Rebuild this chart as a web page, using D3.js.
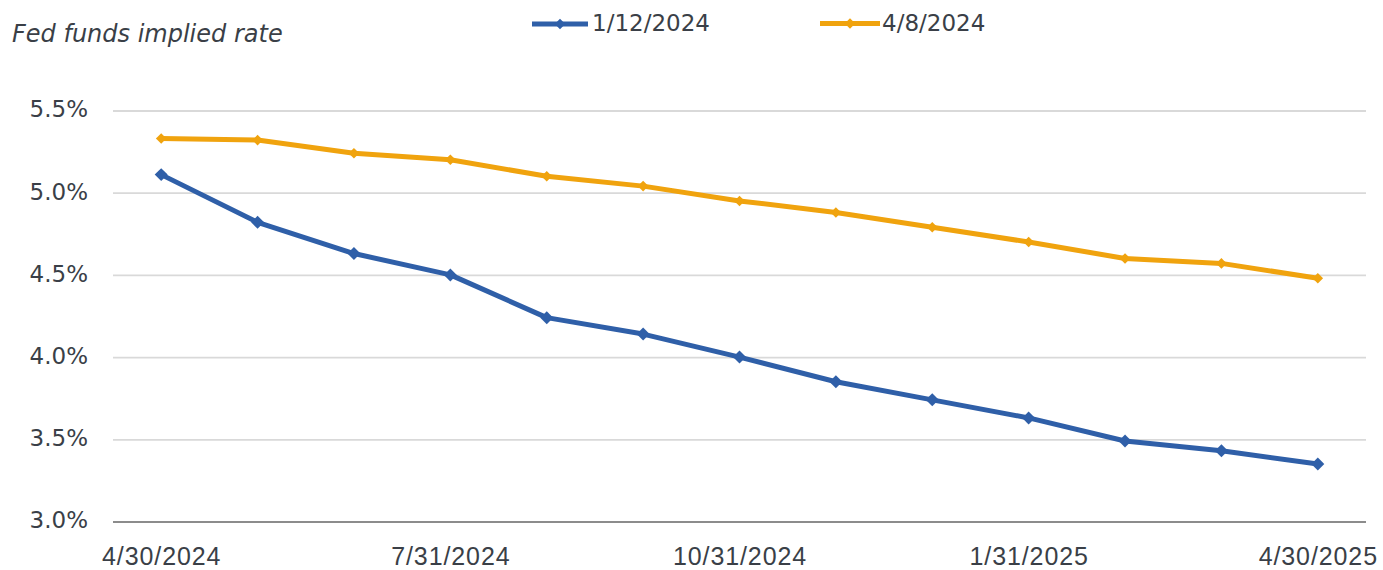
<!DOCTYPE html>
<html>
<head>
<meta charset="utf-8">
<script src="https://cdn.jsdelivr.net/npm/d3@7"></script>
<style>
  html, body { margin: 0; padding: 0; background: #ffffff; }
  svg { display: block; }
</style>
</head>
<body>
<svg id="chart" width="1383" height="570"></svg>
<script>
// Month-end observation dates on the x axis
const dates = ["4/30/2024", "5/31/2024", "6/30/2024", "7/31/2024", "8/31/2024", "9/30/2024",
               "10/31/2024", "11/30/2024", "12/31/2024", "1/31/2025", "2/28/2025", "3/31/2025", "4/30/2025"];
// Dates that carry a tick label
const xTickLabels = ["4/30/2024", "7/31/2024", "10/31/2024", "1/31/2025", "4/30/2025"];
// Implied fed funds rate (%) as priced on each date
const seriesNames = ["1/12/2024", "4/8/2024"];
const rates_1_12_2024 = [5.11, 4.82, 4.63, 4.50, 4.24, 4.14, 4.00, 3.85, 3.74, 3.63, 3.49, 3.43, 3.35];
const rates_4_8_2024  = [5.33, 5.32, 5.24, 5.20, 5.10, 5.04, 4.95, 4.88, 4.79, 4.70, 4.60, 4.57, 4.48];
const yTicks = [3.0, 3.5, 4.0, 4.5, 5.0, 5.5];

const colors = ["#2f5fa8", "#f0a30e"];
const textColor = "#3a3f47";
const uiFont = "'DejaVu Sans', Verdana, sans-serif";

const svg = d3.select("#chart");

const x = d3.scalePoint().domain(dates).range([113, 1366]).padding(0.5);
const y = d3.scaleLinear().domain([3.0, 5.5]).range([521.5, 110.5]);

// Square diamond marker (rotated square, equal width and height)
const squareDiamond = {
  draw(context, size) {
    const r = Math.sqrt(size / 2);
    context.moveTo(0, -r);
    context.lineTo(r, 0);
    context.lineTo(0, r);
    context.lineTo(-r, 0);
    context.closePath();
  }
};
const marker = d3.symbol().type(squareDiamond);

// Axis title
svg.append("text")
  .attr("x", 12).attr("y", 42)
  .attr("font-family", uiFont)
  .attr("font-style", "italic")
  .attr("font-size", 24)
  .attr("fill", textColor)
  .text("Fed funds implied rate");

// Horizontal gridlines and y labels
const yAxis = d3.axisLeft(y)
  .tickValues(yTicks)
  .tickFormat(d => d3.format(".1f")(d) + "%")
  .tickSize(-(1366 - 113))
  .tickPadding(25);

const gy = svg.append("g")
  .attr("transform", "translate(113,0)")
  .call(yAxis);
gy.select(".domain").remove();
gy.selectAll(".tick line")
  .attr("stroke", d => d === 3.0 ? "#8c8c8c" : "#d9d9d9")
  .attr("stroke-width", d => d === 3.0 ? 2.2 : 1.8);
gy.selectAll(".tick text")
  .attr("font-family", uiFont)
  .attr("font-size", 23)
  .attr("fill", textColor)
  .attr("dy", "0.28em");

// X axis labels (every third month)
const xAxis = d3.axisBottom(x)
  .tickValues(xTickLabels)
  .tickSize(0)
  .tickPadding(0);
const gx = svg.append("g")
  .attr("transform", "translate(0,521.5)")
  .call(xAxis);
gx.select(".domain").remove();
gx.selectAll(".tick text")
  .attr("y", 43)
  .attr("dy", null)
  .attr("font-family", "'Liberation Sans', Arial, sans-serif")
  .attr("font-size", 25)
  .attr("letter-spacing", 0.9)
  .attr("fill", textColor);

// Series lines with diamond markers
const series = [rates_1_12_2024, rates_4_8_2024];
const line = d3.line()
  .x((d, i) => x(dates[i]))
  .y(d => y(d));

series.forEach((vals, si) => {
  const g = svg.append("g");
  g.append("path")
    .datum(vals)
    .attr("d", line)
    .attr("fill", "none")
    .attr("stroke", colors[si])
    .attr("stroke-width", 5)
    .attr("stroke-linejoin", "round")
    .attr("stroke-linecap", "round");
  g.selectAll("path.marker")
    .data(vals)
    .join("path")
    .attr("class", "marker")
    .attr("d", marker.size(si === 0 ? 84 : 56)())
    .attr("transform", (d, i) => `translate(${x(dates[i])},${y(d)})`)
    .attr("fill", colors[si]);
});

// Legend
const legendItems = [
  { x0: 532, x1: 588, ly: 24, tx: 592 },
  { x0: 820, x1: 880, ly: 23.5, tx: 882 }
];
legendItems.forEach((p, si) => {
  const lg = svg.append("g");
  lg.append("line")
    .attr("x1", p.x0).attr("x2", p.x1)
    .attr("y1", p.ly).attr("y2", p.ly)
    .attr("stroke", colors[si])
    .attr("stroke-width", 5);
  lg.append("path")
    .attr("d", marker.size(56)())
    .attr("transform", `translate(${(p.x0 + p.x1) / 2},${p.ly})`)
    .attr("fill", colors[si]);
  lg.append("text")
    .attr("x", p.tx).attr("y", 30.5)
    .attr("font-family", uiFont)
    .attr("font-size", 23)
    .attr("fill", textColor)
    .text(seriesNames[si]);
});
</script>
</body>
</html>
